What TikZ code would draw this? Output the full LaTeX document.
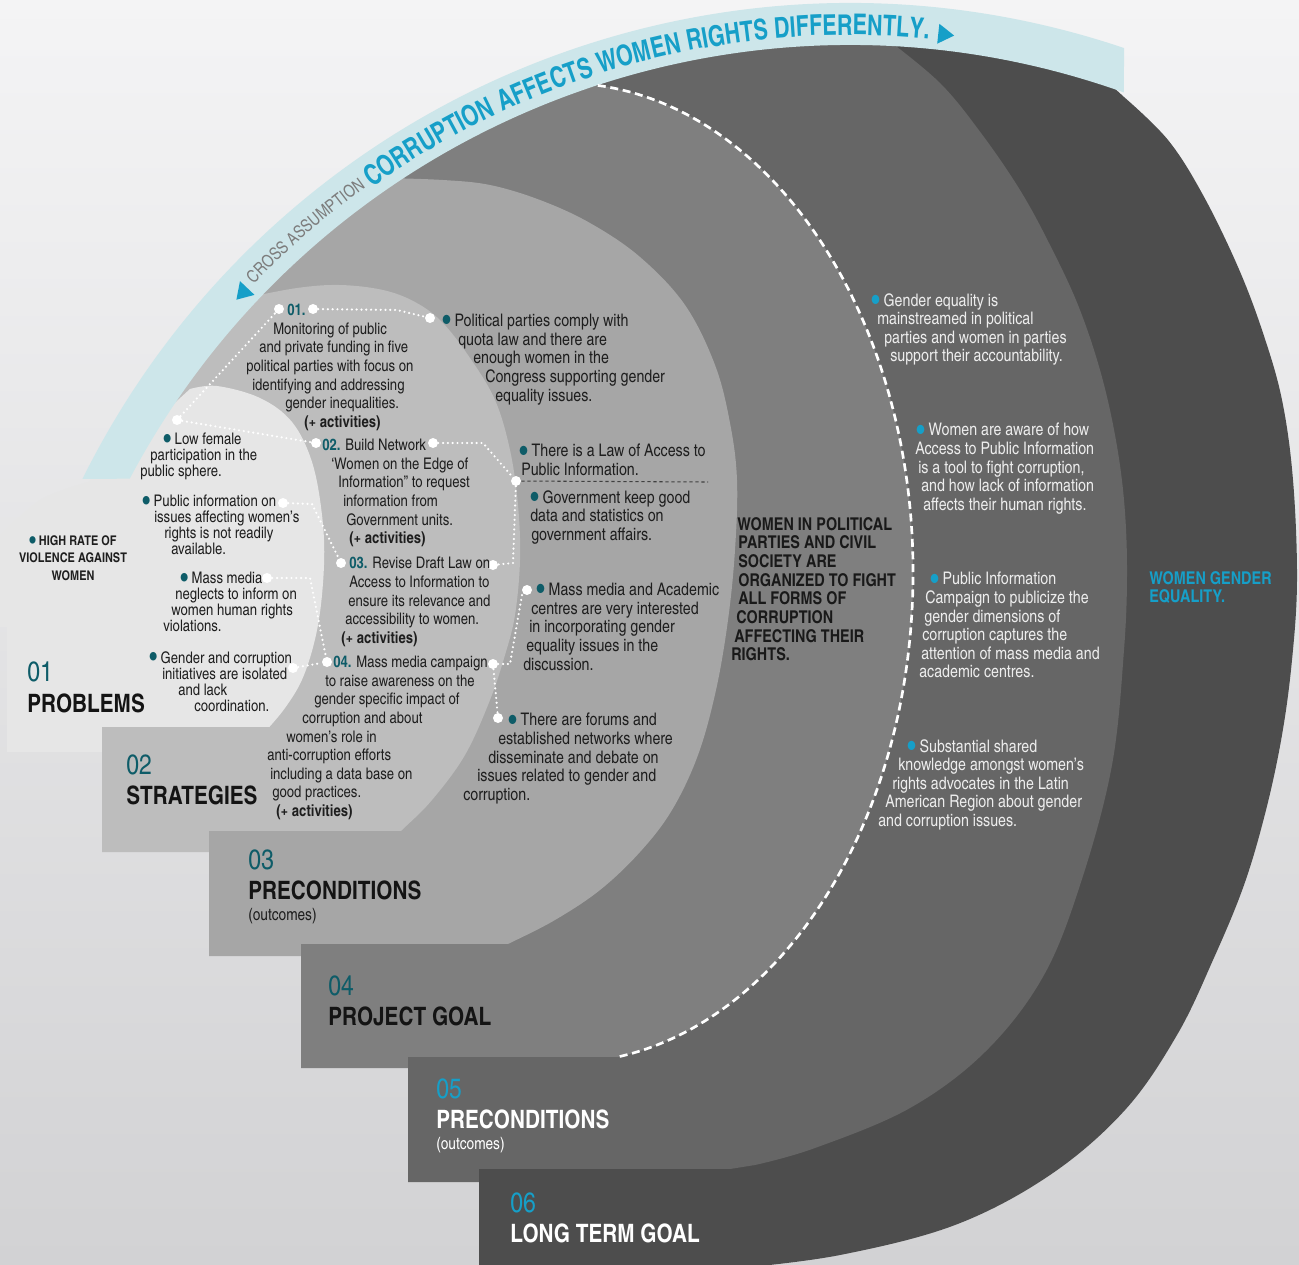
\documentclass[tikz,border=0pt]{standalone}
\usepackage{graphicx}
\usepackage{fontspec}
\setmainfont{texgyreheroscn}[Extension=.otf, UprightFont=*-regular, BoldFont=*-bold, ItalicFont=*-italic, BoldItalicFont=*-bolditalic]
\newfontfamily\bandfont{texgyreheroscn}[Extension=.otf, UprightFont=*-bold, FakeStretch=0.92]
\usetikzlibrary{calc,decorations.text}

\definecolor{bgtop}{HTML}{F4F4F5}
\definecolor{bgbot}{HTML}{D2D2D4}
\definecolor{lay1}{HTML}{E6E6E6}
\definecolor{lay2}{HTML}{BDBDBD}
\definecolor{lay3}{HTML}{A6A6A6}
\definecolor{lay4}{HTML}{7F7F7F}
\definecolor{lay5}{HTML}{666666}
\definecolor{lay6}{HTML}{4D4D4D}
\definecolor{bandc}{HTML}{CDE6EA}
\definecolor{numteal}{HTML}{0E5C68}
\definecolor{numcyan}{HTML}{169FC8}
\definecolor{txtc}{HTML}{1E1E1E}
\definecolor{crossgray}{HTML}{7D7D7D}

\newcommand{\bul}{\textcolor{numteal}{\raisebox{-0.24em}{\scalebox{1.7}{•}}}}
\newcommand{\cbul}{\textcolor{numcyan}{\raisebox{-0.24em}{\scalebox{1.7}{•}}}}
\newcommand{\numlabel}[1]{{\bfseries\color{numteal}#1}}

\begin{document}
\begin{tikzpicture}[x=0.75pt, y=-0.75pt,
	t1/.style={font=\fontsize{12}{12}\selectfont, text=txtc, align=left, inner sep=0, anchor=north west},
	t2/.style={font=\fontsize{12}{13.95}\selectfont, text=txtc, align=left, inner sep=0, anchor=north west},
	t3/.style={font=\fontsize{13}{13.95}\selectfont, text=txtc, align=left, inner sep=0, anchor=north west},
	t5/.style={t3, text=white!93!black},
	tb1/.style={font=\bfseries\fontsize{10}{13}\selectfont, text=txtc, align=center, inner sep=0},
	tb4/.style={font=\bfseries\fontsize{13.2}{14}\selectfont, text=black!90, align=left, inner sep=0, anchor=north west},
	numtxt/.style={font=\fontsize{21}{21}\selectfont, text=numteal, anchor=west, inner sep=0},
	headtxt/.style={font=\bfseries\fontsize{19}{19}\selectfont, text=black!92, anchor=west, inner sep=0},
	outc/.style={font=\fontsize{12.5}{13}\selectfont, text=txtc, anchor=west, inner sep=0},
	wdot/.style={circle, fill=white, minimum size=7.5pt, inner sep=0},
	wline/.style={draw=white, line width=1.8pt, line cap=round, dash pattern=on 0pt off 3.6pt},
	bnddash/.style={draw=white, line width=2pt, dash pattern=on 6pt off 3.5pt},
	lawdash/.style={draw=black!75, line width=0.8pt, dash pattern=on 2.5pt off 2pt}]

	\useasboundingbox (0,0) rectangle (1299,1264);
	\clip (0,0) rectangle (1299,1264);
	\shade[top color=bgtop, bottom color=bgbot] (0,0) rectangle (1299,1264);
	\coordinate (bc) at (850,860);

	\fill[lay6] (1100,75) -- plot[smooth, tension=0.6] coordinates {(1124,97) (1168,140) (1203,195) (1238,267) (1263,333) (1282,400) (1293,480) (1297,580) (1292,660) (1282,735) (1266,810) (1244,885) (1213,960) (1177,1035) (1125,1110) (1050,1175) (955,1225) (840,1255) (740,1268)} -- (740,1275) -- (479,1275) -- (479,1169) -- (440,1100) -- (360,1000) -- (260,900) -- (160,800) -- (120,700) -- (100,600) -- (110,470) -- (290,245) -- (400,160) -- (600,55) -- (880,28) -- cycle;
	\fill[lay5] (880,28) -- plot[smooth, tension=0.6] coordinates {(888,40) (940,83) (981,133) (1020,190) (1050,245) (1078,305) (1100,370) (1115,435) (1124,500) (1127,570) (1124,650) (1112,765) (1082,879) (1044,975) (986,1051) (910,1108) (815,1148) (755,1165)} -- (730,1169) -- (730,1182) -- (408,1182) -- (408,1057) -- (360,1000) -- (260,900) -- (160,800) -- (120,700) -- (100,600) -- (110,470) -- (290,245) -- (400,160) -- (600,55) -- cycle;
	\fill[lay4] (400,160) -- (500,112) -- (597.8,85.4) arc[start angle=-84.3, end angle=81, x radius=350, y radius=490] -- (600,1068) -- (301,1068) -- (301,944) -- (260,900) -- (160,800) -- (120,700) -- (100,600) -- (110,470) -- (290,245) -- cycle;
	\fill[lay3] (290,245) -- plot[smooth, tension=0.6] coordinates {(385,178) (443,180) (490,185) (540,200) (590,223) (640,257) (685,305) (715,365) (730,423) (737,480) (735,550) (728,620) (716,690) (698,755) (672,810) (640,852) (600,890) (555,920) (510,943) (490,952)} -- (490,956) -- (209,956) -- (209,831) -- (160,800) -- (120,700) -- (100,600) -- (110,470) -- cycle;
	\fill[lay2] (110,470) -- plot[smooth, tension=0.6] coordinates {(245,298) (297,288) (340,285) (383,290) (415,302) (442,322) (470,358) (495,400) (510,450) (518,505) (520,560) (515,615) (505,655) (490,700) (465,755) (432,800) (402,830) (385,846)} -- (385,852) -- (102,852) -- (102,727) -- (60,690) -- (60,560) -- cycle;
	\fill[lay1] (7,752) -- (7,627) -- (-5,627) -- plot[smooth] coordinates {(-5,540) (40,500) (88,482)} -- (190,389) -- plot[smooth, tension=0.6] coordinates {(190,389) (217,386) (260,398) (292,422) (312,462) (322,515) (324,565) (318,625) (304,675) (285,708) (262,735)} -- (262,752) -- cycle;

	\fill[bandc] ($(bc)+(-153.6:857)$) arc[start angle=-153.6, end angle=-71.35, radius=857] -- ($(bc)+(-70.36:815)$) arc[start angle=-70.36, end angle=-152.1, radius=815] -- cycle;
	\path[decorate, decoration={text along path, text color=crossgray, text={|\fontsize{13}{13}\selectfont|CROSS ASSUMPTION}}] ($(bc)+(-136:829)$) arc[start angle=-136, end angle=-120, radius=829];
	\path[decorate, decoration={text along path, text color=numcyan, text={|\bandfont\fontsize{21.4}{21.4}\selectfont|CORRUPTION AFFECTS WOMEN RIGHTS DIFFERENTLY.}}] ($(bc)+(-125.4:825)$) arc[start angle=-125.4, end angle=-75, radius=825];
	\fill[numcyan] ($(bc)+(-136.5:821)$) -- ($(bc)+(-136.5:841)$) -- ($(bc)+(-137.6:831)$) -- cycle;
	\fill[numcyan] ($(bc)+(-83.9:821)$) -- ($(bc)+(-83.9:841)$) -- ($(bc)+(-82.8:831)$) -- cycle;

	\fill[lay2] (102,727) rectangle (380,852);
	\fill[lay3] (209,831) rectangle (480,956);
	\fill[lay4] (301,944) rectangle (590,1068);
	\fill[lay5] (408,1057) rectangle (720,1182);
	\fill[lay6] (479,1169) rectangle (735,1275);

	\draw[bnddash] (597.8,85.4) arc[start angle=-84.3, end angle=81, x radius=350, y radius=490];

	\foreach \nm/\px/\py in {dLow/177/420, d01a/279/309, d01b/313/309, dPol/430/318, d02a/316/443, d02b/433/443, dLaw/516/481, d03a/341/563, d03b/493/565, dPub/283/503, dMass/267/578, d04a/327/662, dGen/293/668, d04b/493/664, dAcad/527/590, dFor/498/718}
		\node[wdot] (\nm) at (\px,\py) {};
	\coordinate (lawEnd) at (708,482);

	\draw[lawdash] (dLaw) -- (lawEnd);
	\draw[wline] (dLow) -- (d01a);
	\draw[wline] (d01b) -- (397,310) -- (dPol);
	\draw[wline] (dLow) -- (d02a);
	\draw[wline] (d02b) -- (483,443) -- (dLaw);
	\draw[wline] (dLaw) -- (513,563) -- (d03b);
	\draw[wline] (dPub) -- (312,504) -- (d03a);
	\draw[wline] (dMass) -- (310,578) -- (d04a);
	\draw[wline] (dGen) -- (d04a);
	\draw[wline] (d04b) -- (510,664) -- (522,595) -- (dAcad);
	\draw[wline] (d04b) -- (dFor);

	\node[tb1] (violence) at (73,558) {\bul\ HIGH RATE OF\\VIOLENCE AGAINST\\WOMEN};
	\node[t1] (lowfem) at (140,433) {\hspace*{17.25pt}\bul\ Low female\\\hspace*{7.5pt}participation in the\\public sphere.};
	\node[t1] (pubinfo) at (142,495) {\bul\ Public information on\\\hspace*{9pt}issues affecting women's\\\hspace*{16.5pt}rights is not readily\\\hspace*{21.75pt}available.};
	\node[t1] (massmed) at (163,572) {\hspace*{12.75pt}\bul\ Mass media\\\hspace*{9pt}neglects to inform on\\\hspace*{6pt}women human rights\\violations.};
	\node[t1] (gencor) at (149,651) {\bul\ Gender and corruption\\\hspace*{9.75pt}initiatives are isolated\\\hspace*{21.75pt}and lack\\\hspace*{33.75pt}coordination.};

	\node[t2] (act1) at (246,304) {\hspace*{30.75pt}\numlabel{01.}\\\hspace*{20.25pt}Monitoring of public\\\hspace*{9.75pt}and private funding in five\\political parties with focus on\\\hspace*{4.5pt}identifying and addressing\\\hspace*{29.25pt}gender inequalities.\\\hspace*{43.5pt}\textbf{(+ activities)}};
	\node[t2] (act2) at (322,439) {\numlabel{02.} Build Network\\\hspace*{6.75pt}‘Women on the Edge of\\\hspace*{12pt}Information” to request\\\hspace*{15.75pt}information from\\\hspace*{18pt}Government units.\\\hspace*{20.25pt}\textbf{(+ activities)}};
	\node[t2] (act3) at (341,557) {\hspace*{6pt}\numlabel{03.} Revise Draft Law on\\\hspace*{6pt}Access to Information to\\\hspace*{5.25pt}ensure its relevance and\\\hspace*{3pt}accessibility to women.\\\textbf{(+ activities)}};
	\node[t2] (act4) at (267,656) {\hspace*{49.5pt}\numlabel{04.} Mass media campaign\\\hspace*{43.5pt}to raise awareness on the\\\hspace*{35.25pt}gender specific impact of\\\hspace*{26.25pt}corruption and about\\\hspace*{14.25pt}women's role in\\anti-corruption efforts\\\hspace*{2.25pt}including a data base on\\\hspace*{3.75pt}good practices.\\\hspace*{6.75pt}\textbf{(+ activities)}};

	\node[t3] (quota) at (442,314) {\bul\ Political parties comply with\\\hspace*{12pt}quota law and there are\\\hspace*{23.25pt}enough women in the\\\hspace*{32.25pt}Congress supporting gender\\\hspace*{39.75pt}equality issues.};
	\node[t3] (lawacc) at (519,444) {\bul\ There is a Law of Access to\\\hspace*{1.5pt}Public Information.};
	\node[t3] (govdata) at (530,490) {\bul\ Government keep good\\data and statistics on\\\hspace*{0.75pt}government affairs.};
	\node[t3] (academic) at (523,583) {\hspace*{9.75pt}\bul\ Mass media and Academic\\\hspace*{6pt}centres are very interested\\\hspace*{4.5pt}in incorporating gender\\\hspace*{2.25pt}equality issues in the\\discussion.};
	\node[t3] (forums) at (463,713) {\hspace*{33.75pt}\bul\ There are forums and\\\hspace*{26.25pt}established networks where\\\hspace*{18.75pt}disseminate and debate on\\\hspace*{10.5pt}issues related to gender and\\corruption.};

	\node[tb4] (projgoal) at (731,517) {\hspace*{4.5pt}WOMEN IN POLITICAL\\\hspace*{5.25pt}PARTIES AND CIVIL\\\hspace*{5.25pt}SOCIETY ARE\\\hspace*{5.25pt}ORGANIZED TO FIGHT\\\hspace*{5.25pt}ALL FORMS OF\\\hspace*{3.75pt}CORRUPTION\\\hspace*{2.25pt}AFFECTING THEIR\\RIGHTS.};

	\node[t5] (mainstream) at (871,293) {\cbul\ Gender equality is\\\hspace*{4.5pt}mainstreamed in political\\\hspace*{9.75pt}parties and women in parties\\\hspace*{14.25pt}support their accountability.};
	\node[t5] (aware) at (915,423) {\hspace*{0.75pt}\cbul\ Women are aware of how\\Access to Public Information\\\hspace*{2.25pt}is a tool to fight corruption,\\\hspace*{4.5pt}and how lack of information\\\hspace*{6pt}affects their human rights.};
	\node[t5] (campaign) at (919,572) {\hspace*{8.25pt}\cbul\ Public Information\\\hspace*{4.5pt}Campaign to publicize the\\\hspace*{3.75pt}gender dimensions of\\\hspace*{2.25pt}corruption captures the\\\hspace*{1.5pt}attention of mass media and\\academic centres.};
	\node[t5] (shared) at (878,739) {\hspace*{21.75pt}\cbul\ Substantial shared\\\hspace*{15pt}knowledge amongst women's\\\hspace*{10.5pt}rights advocates in the Latin\\\hspace*{5.25pt}American Region about gender\\and corruption issues.};

	\node[tb4, text=numcyan] (longgoal) at (1149,571) {WOMEN GENDER\\EQUALITY.};

	\node[numtxt] (n01) at (27,672) {01};
	\node[headtxt] (h01) at (27,703) {PROBLEMS};
	\node[numtxt] (n02) at (126,765) {02};
	\node[headtxt] (h02) at (126,795) {STRATEGIES};
	\node[numtxt] (n03) at (248,860) {03};
	\node[headtxt] (h03) at (248,890) {PRECONDITIONS};
	\node[outc] (o03) at (248,916) {(outcomes)};
	\node[numtxt] (n04) at (328,986) {04};
	\node[headtxt] (h04) at (328,1016) {PROJECT GOAL};
	\node[numtxt, text=numcyan] (n05) at (436,1089) {05};
	\node[headtxt, text=white] (h05) at (436,1119) {PRECONDITIONS};
	\node[outc, text=white] (o05) at (436,1145) {(outcomes)};
	\node[numtxt, text=numcyan] (n06) at (510,1203) {06};
	\node[headtxt, text=white] (h06) at (510,1233) {LONG TERM GOAL};
\end{tikzpicture}
\end{document}
